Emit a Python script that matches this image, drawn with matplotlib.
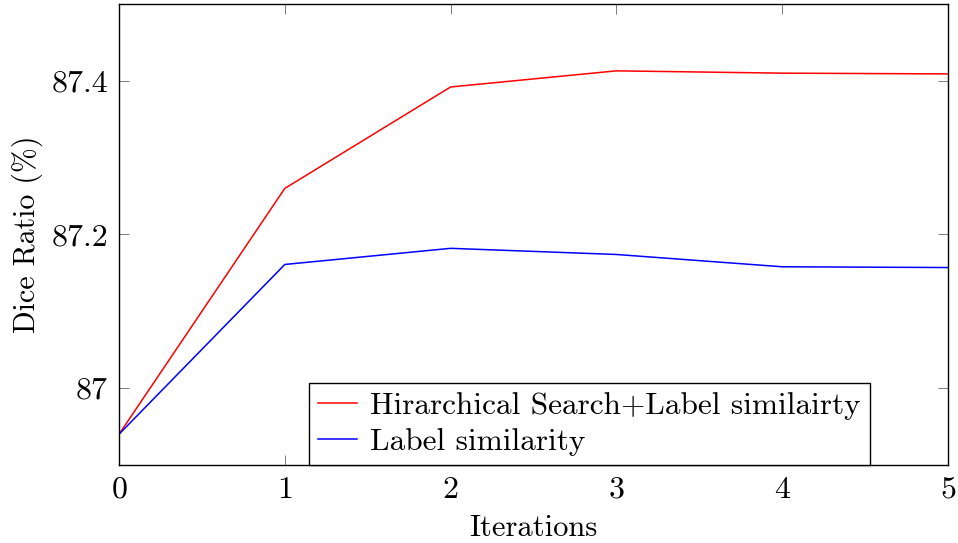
import numpy as np
import matplotlib
matplotlib.use("Agg")
import matplotlib.pyplot as plt

plt.rcParams['font.family'] = 'serif'
plt.rcParams['font.serif'] = ['cmr10']
plt.rcParams['mathtext.fontset'] = 'cm'
plt.rcParams['axes.formatter.use_mathtext'] = True

# dice ratio per refinement iteration
iterations = [0, 1, 2, 3, 4, 5]
hier_label = [86.94, 87.26, 87.392, 87.413, 87.41, 87.409]
label_only = [86.94, 87.161, 87.182, 87.174, 87.158, 87.157]

fig = plt.figure(figsize=(9.58, 5.43), dpi=100)
ax = fig.add_axes([119/958, 1 - 465/543, (948-119)/958, (465-4)/543])

ax.plot(iterations, hier_label, color='red', lw=1.1, label='Hirarchical Search+Label similairty')
ax.plot(iterations, label_only, color='blue', lw=1.1, label='Label similarity')

ax.set_xlim(0, 5)
ax.set_ylim(86.9, 87.5)
ax.set_xticks(iterations)
ax.set_yticks([87, 87.2, 87.4])
ax.set_yticklabels(['87', '87.2', '87.4'])
ax.tick_params(direction='in', top=True, right=True, length=7, width=0.6,
               color='#666666', labelsize=23, pad=8)
for s in ax.spines.values():
    s.set_linewidth(1.0)

ax.set_xlabel('Iterations', fontsize=22, labelpad=8)
ax.set_ylabel('Dice Ratio (%)', fontsize=21.5, labelpad=6)

leg = ax.legend(loc='lower left', bbox_to_anchor=((309-119)/829, 0.0), fontsize=22.5,
                fancybox=False, framealpha=1, edgecolor='black',
                handlelength=1.25, handletextpad=0.4, borderpad=0.3,
                labelspacing=0.25, borderaxespad=0)
leg.get_frame().set_linewidth(1.0)

fig.savefig('out.png', dpi=100)
